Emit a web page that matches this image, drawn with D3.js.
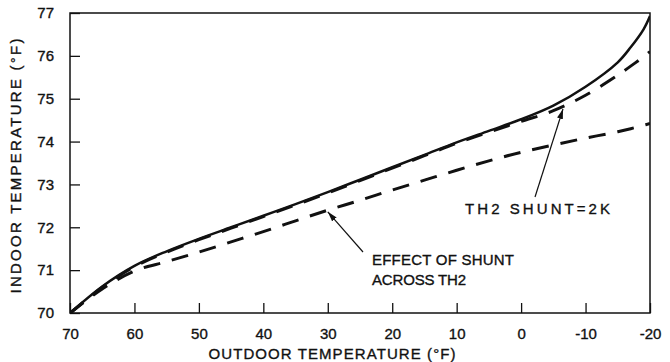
<!DOCTYPE html>
<html>
<head>
<meta charset="utf-8">
<script src="https://cdn.jsdelivr.net/npm/d3@7"></script>
<style>
  html, body { margin: 0; padding: 0; background: #fff; }
  svg { display: block; }
  text { font-family: "Liberation Sans", Arial, sans-serif; fill: #111; stroke: #111; stroke-width: 0.35px; }
</style>
</head>
<body>
<div id="chart"></div>
<script>
// Outdoor temperature (°F), running from warm to cold
const outdoor = [70, 65, 60, 55, 50, 45, 40, 35, 30, 25, 20, 15, 10, 5, 0, -5, -10, -15, -17, -19, -20];

// Indoor temperature without shunt (solid)
const indoorBase = [70.0, 70.62, 71.10, 71.44, 71.73, 72.00, 72.27, 72.54, 72.82, 73.11, 73.40, 73.69, 73.98, 74.25, 74.52, 74.84, 75.28, 75.85, 76.20, 76.62, 76.93];

// TH2 shunt = 2K (upper dashed)
const indoorShunt2K = [69.99, 70.60, 71.08, 71.42, 71.71, 71.98, 72.25, 72.52, 72.80, 73.09, 73.38, 73.67, 73.96, 74.22, 74.47, 74.72, 75.08, 75.55, 75.76, 75.98, 76.10];

// Effect of shunt across TH2 (lower dashed)
const indoorShuntEffect = [70.0, 70.56, 70.98, 71.20, 71.42, 71.66, 71.90, 72.15, 72.40, 72.63, 72.87, 73.10, 73.33, 73.55, 73.75, 73.92, 74.08, 74.23, 74.30, 74.38, 74.42];

const xTicks = [70, 60, 50, 40, 30, 20, 10, 0, -10, -20];
const yTicks = [70, 71, 72, 73, 74, 75, 76, 77];

const W = 670, H = 362;
const plot = { left: 70, right: 650, top: 13, bottom: 313 };

const svg = d3.select("#chart").append("svg")
  .attr("width", W).attr("height", H);

const x = d3.scaleLinear().domain([70, -20]).range([plot.left, plot.right]);
const y = d3.scaleLinear().domain([70, 77]).range([plot.bottom, plot.top]);

// Frame
svg.append("rect")
  .attr("x", plot.left).attr("y", plot.top)
  .attr("width", plot.right - plot.left).attr("height", plot.bottom - plot.top)
  .attr("fill", "none").attr("stroke", "#111").attr("stroke-width", 1.5);

// Bottom axis: inward ticks
const xAxis = d3.axisBottom(x).tickValues(xTicks).tickSizeInner(-10).tickSizeOuter(0)
  .tickPadding(15)
  .tickFormat(d => d < 0 ? "-" + Math.abs(d) : d);
const gx = svg.append("g").attr("transform", `translate(0,${plot.bottom})`).call(xAxis);
gx.select(".domain").remove();
gx.selectAll(".tick line").attr("stroke", "#111").attr("stroke-width", 1.3);
gx.selectAll(".tick text").attr("font-size", 15).attr("font-family", "Liberation Sans, Arial, sans-serif").attr("fill", "#111");

// Left axis: inward ticks
const yAxis = d3.axisLeft(y).tickValues(yTicks).tickSizeInner(-10).tickSizeOuter(0)
  .tickPadding(16).tickFormat(d3.format("d"));
const gy = svg.append("g").attr("transform", `translate(${plot.left},0)`).call(yAxis);
gy.select(".domain").remove();
gy.selectAll(".tick line").attr("stroke", "#111").attr("stroke-width", 1.3);
gy.selectAll(".tick text").attr("font-size", 15).attr("font-family", "Liberation Sans, Arial, sans-serif").attr("fill", "#111");

// Axis titles
svg.append("text")
  .attr("x", 332).attr("y", 359)
  .attr("text-anchor", "middle")
  .attr("font-size", 15)
  .attr("textLength", 247).attr("lengthAdjust", "spacing")
  .text("OUTDOOR TEMPERATURE (°F)");

svg.append("text")
  .attr("transform", "translate(21,166) rotate(-90)")
  .attr("text-anchor", "middle")
  .attr("font-size", 15)
  .attr("textLength", 255).attr("lengthAdjust", "spacing")
  .text("INDOOR TEMPERATURE (°F)");

// Curves
const line = vals => d3.line()
  .x((d, i) => x(outdoor[i]))
  .y(d => y(d))
  .curve(d3.curveCatmullRom.alpha(0.5))(vals);

svg.append("clipPath").attr("id", "plotclip")
  .append("rect").attr("x", plot.left).attr("y", plot.top - 2)
  .attr("width", plot.right - plot.left).attr("height", plot.bottom - plot.top + 2);

const curves = svg.append("g").attr("clip-path", "url(#plotclip)");

curves.append("path")
  .attr("d", line(indoorShuntEffect))
  .attr("fill", "none").attr("stroke", "#111")
  .attr("stroke-width", 3).attr("stroke-dasharray", "17,12");

curves.append("path")
  .attr("d", line(indoorShunt2K))
  .attr("fill", "none").attr("stroke", "#111")
  .attr("stroke-width", 3).attr("stroke-dasharray", "17,12");

curves.append("path")
  .attr("d", line(indoorBase))
  .attr("fill", "none").attr("stroke", "#111")
  .attr("stroke-width", 2.5);

// Arrow marker
svg.append("defs").append("marker")
  .attr("id", "arrow")
  .attr("viewBox", "0 0 10 6")
  .attr("refX", 10).attr("refY", 3)
  .attr("markerWidth", 10).attr("markerHeight", 6)
  .attr("markerUnits", "userSpaceOnUse")
  .attr("orient", "auto")
  .append("path").attr("d", "M0,0 L10,3 L0,6 Z").attr("fill", "#111");

// Annotation: effect of shunt across TH2 (points at lower dashed curve near 30°F)
const tipA = [x(30), y(72.36)];
svg.append("line")
  .attr("x1", 363).attr("y1", 252)
  .attr("x2", tipA[0]).attr("y2", tipA[1])
  .attr("stroke", "#111").attr("stroke-width", 1.2)
  .attr("marker-end", "url(#arrow)");

svg.append("text").attr("x", 372).attr("y", 265)
  .attr("font-size", 15).attr("textLength", 142).attr("lengthAdjust", "spacing")
  .text("EFFECT OF SHUNT");
svg.append("text").attr("x", 372).attr("y", 285)
  .attr("font-size", 15).attr("textLength", 94).attr("lengthAdjust", "spacing")
  .text("ACROSS TH2");

// Annotation: TH2 shunt = 2K (points at upper dashed curve near -6°F)
const tipB = [x(-6.5), y(74.76)];
svg.append("line")
  .attr("x1", 535).attr("y1", 197)
  .attr("x2", tipB[0]).attr("y2", tipB[1])
  .attr("stroke", "#111").attr("stroke-width", 1.2)
  .attr("marker-end", "url(#arrow)");

svg.append("text").attr("x", 465).attr("y", 214)
  .attr("font-size", 15).attr("textLength", 145).attr("lengthAdjust", "spacing")
  .text("TH2 SHUNT=2K");
</script>
</body>
</html>
